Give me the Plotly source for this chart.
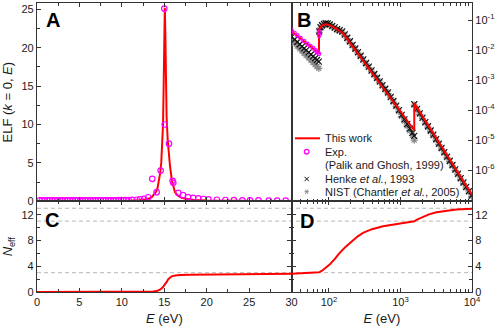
import math
import plotly.graph_objects as go

# ---------------- data ----------------
# Panel A: ELF(k=0,E), linear energy axis
model_E_A = [0, 2, 4, 6, 8, 10, 11, 12, 12.5, 13, 13.5, 14.0, 14.2, 14.37, 14.5, 14.64, 14.76, 14.85,
             14.93, 15.0, 15.06, 15.12, 15.18, 15.27, 15.4, 15.51, 15.67, 15.9, 16.26, 16.6, 17.0, 17.5,
             18.5, 20, 22.5, 25, 30]
model_ELF_A = [0.0, 0.0, 0.01, 0.02, 0.03, 0.05, 0.07, 0.13, 0.18, 0.28, 0.5, 1.19, 1.7, 2.67, 3.6, 5.0,
               7.5, 10.0, 15.5, 22.0, 25.2, 22.0, 15.5, 11.0, 8.0, 6.5, 4.6, 2.67, 1.19, 0.75, 0.48, 0.32,
               0.17, 0.09, 0.05, 0.03, 0.015]
exp_E_A = [0.3, 0.6, 0.9, 1.2, 1.5, 1.8, 2.1, 2.4, 2.7, 3.0, 3.3, 3.6, 3.9, 4.2, 4.5, 4.8, 5.1, 5.4, 5.7,
           6.0, 6.3, 6.6, 6.9, 7.2, 7.5, 7.8, 8.1, 8.4, 8.7, 9.0, 9.3, 9.6, 9.9, 10.2, 10.5, 10.8, 11.2,
           11.77, 12.13, 12.6, 13.1, 13.58, 14.1, 14.57, 15.0, 15.05, 15.55, 15.98, 16.06, 16.65, 17.2,
           17.8, 18.4, 19.0, 19.6, 20.2, 21.2, 22.2, 23.2, 24.2, 25.1, 26.1, 27.3, 28.3, 29.3]
exp_ELF_A = [0.12, 0.12, 0.12, 0.12, 0.12, 0.12, 0.12, 0.12, 0.12, 0.12, 0.12, 0.12, 0.12, 0.12, 0.12,
             0.12, 0.12, 0.12, 0.12, 0.12, 0.12, 0.12, 0.12, 0.12, 0.12, 0.12, 0.12, 0.13, 0.13, 0.13,
             0.13, 0.14, 0.14, 0.15, 0.16, 0.17, 0.18, 0.2, 0.27, 0.32, 0.53, 2.93, 1.19, 4.0, 25.1, 10.0,
             7.5, 2.67, 2.4, 1.1, 0.8, 0.55, 0.45, 0.37, 0.3, 0.26, 0.2, 0.17, 0.15, 0.13, 0.12, 0.11, 0.1,
             0.1, 0.09]

# Panel B: ELF, log-log
model_E_B = [30, 40, 50, 60, 72.4, 72.6, 79, 92, 113, 132, 157, 300, 1000, 1559, 1561, 10000]
model_ELF_B = [0.042, 0.0242, 0.0158, 0.0112, 0.0078, 0.049, 0.0656, 0.0736, 0.0607, 0.0482, 0.036,
               4.43e-3, 8.95e-5, 2.12e-5, 1.67e-4, 1.48e-7]
exp_E_B = [30, 33, 36, 40, 45, 50, 55, 60, 65, 70, 72.5, 73, 74]
exp_ELF_B = [0.045, 0.037, 0.031, 0.025, 0.020, 0.016, 0.0135, 0.0115, 0.0097, 0.0083, 0.0075, 0.030, 0.040]

henke_E = [30, 33, 36, 39, 42, 45, 48, 52, 56, 60, 64, 68, 72,
           73, 76, 80, 85, 90, 96, 103, 111, 120, 130, 141, 153, 166, 180, 196, 214, 233, 254, 277, 302,
           330, 360, 393, 430, 470, 513, 560, 612, 668, 730, 797, 870, 950, 1040, 1135, 1240, 1350, 1470,
           1555,
           1560, 1700, 1860, 2030, 2220, 2420, 2640, 2880, 3150, 3440, 3750, 4100, 4470, 4880, 5330, 5820,
           6360, 6940, 7580, 8280, 9040, 9870]
henke_ELF = [0.0275, 0.0224, 0.0185, 0.0156, 0.0133, 0.0114, 0.0099, 8.34e-3, 7.10e-3, 6.11e-3, 5.32e-3,
             4.67e-3, 4.12e-3,
             0.042, 0.058, 0.067, 0.074, 0.078, 0.077, 0.072, 0.064, 0.057, 0.050, 0.046, 0.042, 0.0333,
             0.0257, 0.0196, 0.01479, 0.01127, 8.55e-3, 6.47e-3, 4.91e-3, 3.70e-3, 2.80e-3, 2.11e-3,
             1.585e-3, 1.19e-3, 9.02e-4, 6.81e-4, 5.12e-4, 3.87e-4, 2.75e-4, 2.0e-4, 1.41e-4, 1.0e-4,
             6.92e-5, 4.90e-5, 3.39e-5, 2.40e-5, 1.74e-5, 1.38e-5,
             1.58e-4, 1.10e-4, 7.76e-5, 5.62e-5, 3.98e-5, 2.88e-5, 2.09e-5, 1.51e-5, 1.07e-5, 7.59e-6,
             5.50e-6, 3.98e-6, 2.82e-6, 2.04e-6, 1.48e-6, 1.05e-6, 7.59e-7, 5.37e-7, 3.89e-7, 2.75e-7,
             2.00e-7, 1.41e-7]
nist_E = henke_E
nist_ELF = [0.0214, 0.0169, 0.0136, 0.0112, 9.31e-3, 7.85e-3, 6.70e-3, 5.50e-3, 4.57e-3, 3.85e-3,
            3.29e-3, 2.83e-3, 2.46e-3,
            0.039, 0.054, 0.062, 0.069, 0.073, 0.072, 0.067, 0.060, 0.053, 0.0465, 0.0425, 0.039, 0.031,
            0.0239, 0.0182, 0.01375, 0.01048, 7.95e-3, 6.02e-3, 4.57e-3, 3.44e-3, 2.60e-3, 1.96e-3,
            1.47e-3, 1.11e-3, 8.39e-4, 6.33e-4, 4.76e-4, 3.60e-4, 2.6e-4, 1.85e-4, 1.3e-4, 9.0e-5,
            6.2e-5, 4.3e-5, 2.95e-5, 2.05e-5, 1.45e-5, 1.0e-5,
            1.47e-4, 1.02e-4, 7.22e-5, 5.23e-5, 3.70e-5, 2.68e-5, 1.94e-5, 1.40e-5, 9.95e-6, 7.06e-6,
            5.12e-6, 3.70e-6, 2.62e-6, 1.90e-6, 1.38e-6, 9.77e-7, 7.06e-7, 4.99e-7, 3.62e-7, 2.56e-7,
            1.86e-7, 1.31e-7]

# Panel C: N_eff, linear energy axis
neff_E_C = [0, 5, 10, 12, 13, 13.7, 14.2, 14.49, 14.8, 15.08, 15.3, 15.47, 15.7, 15.87, 16.3, 16.85, 18,
            20, 25, 30]
neff_C = [0, 0, 0.01, 0.02, 0.04, 0.08, 0.2, 0.36, 0.7, 1.13, 1.6, 2.0, 2.3, 2.43, 2.56, 2.64, 2.68,
          2.72, 2.78, 2.82]
# Panel D: N_eff, log energy axis
neff_E_D = [30, 50, 72.9, 80, 90, 102, 120, 141, 170, 206, 250, 299, 400, 569, 800, 975, 1300, 1560,
            1700, 2066, 2500, 3180, 4500, 6030, 10000]
neff_D = [2.82, 2.92, 3.05, 3.3, 3.75, 4.25, 5.1, 6.07, 7.0, 7.87, 8.6, 9.17, 9.75, 10.2, 10.45, 10.6,
          10.8, 10.98, 11.25, 11.66, 12.05, 12.38, 12.65, 12.8, 12.92]
neff_levels = [3, 11, 13]

# tick labels
x_ticks_lin = [0, 5, 10, 15, 20, 25, 30]
y_ticks_A = [0, 5, 10, 15, 20, 25]
y_ticks_B = [1e-6, 1e-5, 1e-4, 1e-3, 1e-2, 1e-1]
y_ticks_B_text = ["10<sup>-6</sup>", "10<sup>-5</sup>", "10<sup>-4</sup>", "10<sup>-3</sup>",
                  "10<sup>-2</sup>", "10<sup>-1</sup>"]
y_ticks_N = [0, 4, 8, 12]
x_ticks_log = [100, 1000, 10000]
x_ticks_log_text = ["10<sup>2</sup>", "10<sup>3</sup>", "10<sup>4</sup>"]

# ---------------- layout geometry ----------------
W, H = 498, 335
ML, MR, MT, MB = 37, 26, 3, 43
PW, PH = W - ML - MR, H - MT - MB
XS = (291.6 - ML) / PW          # split between left and right panels
YS = (H - MB - 201.3) / PH      # split between top and bottom panels


def px(x):
    return (x - ML) / PW


def py(y):
    return (H - MB - y) / PH


RED = "#FF0000"
MAG = "#FF00FF"
AX = "#333333"
TXT = "#1a1a1a"
FONT = "Liberation Sans, Arial, sans-serif"

fig = go.Figure()

# Panel A
fig.add_trace(go.Scatter(x=model_E_A, y=model_ELF_A, mode="lines", line=dict(color=RED, width=2),
                         xaxis="x", yaxis="y", showlegend=False))
fig.add_trace(go.Scatter(x=exp_E_A, y=exp_ELF_A, mode="markers",
                         marker=dict(symbol="circle-open", size=5.5, color=MAG, line=dict(width=1.2, color=MAG)),
                         xaxis="x", yaxis="y", showlegend=False))
# Panel B
fig.add_trace(go.Scatter(x=nist_E, y=nist_ELF, mode="markers",
                         marker=dict(symbol="asterisk-open", size=6, color="#8a8a8a",
                                     line=dict(width=1.2, color="#8a8a8a")),
                         xaxis="x2", yaxis="y2", showlegend=False))
fig.add_trace(go.Scatter(x=henke_E, y=henke_ELF, mode="markers",
                         marker=dict(symbol="x-thin-open", size=6, color="#111111",
                                     line=dict(width=1.2, color="#111111")),
                         xaxis="x2", yaxis="y2", showlegend=False))
fig.add_trace(go.Scatter(x=model_E_B, y=model_ELF_B, mode="lines", line=dict(color=RED, width=2),
                         xaxis="x2", yaxis="y2", showlegend=False))
fig.add_trace(go.Scatter(x=exp_E_B, y=exp_ELF_B, mode="markers",
                         marker=dict(symbol="circle-open", size=3.5, color=MAG, line=dict(width=1.2, color=MAG)),
                         xaxis="x2", yaxis="y2", showlegend=False))
# Panel C and D
fig.add_trace(go.Scatter(x=neff_E_C, y=neff_C, mode="lines", line=dict(color=RED, width=2),
                         xaxis="x3", yaxis="y3", showlegend=False))
fig.add_trace(go.Scatter(x=neff_E_D, y=neff_D, mode="lines", line=dict(color=RED, width=2),
                         xaxis="x4", yaxis="y4", showlegend=False))

base = dict(showline=True, linecolor=AX, linewidth=1.3, ticks="inside", tickcolor=AX, ticklen=4,
            tickwidth=1, showgrid=False, zeroline=False, automargin=False,
            tickfont=dict(size=11, color=TXT, family=FONT))
minor_lin = lambda d: dict(ticks="inside", ticklen=2.5, tickcolor=AX, dtick=d, showgrid=False)
log_minor = [v * 10 ** k for k in (1, 2, 3) for v in range(2, 10) if 30 < v * 10 ** k < 10000]
minor_log_x = dict(ticks="inside", ticklen=2.5, tickcolor=AX, tickvals=log_minor, showgrid=False)

fig.update_layout(
    width=W, height=H, margin=dict(l=ML, r=MR, t=MT, b=MB, autoexpand=False),
    paper_bgcolor="white", plot_bgcolor="white",
    font=dict(family=FONT, color=TXT, size=11),
    showlegend=False,
    xaxis=dict(base, domain=[0, XS], range=[0, 30], anchor="y", tickvals=x_ticks_lin,
               showticklabels=False, mirror="ticks", minor=minor_lin(2.5)),
    yaxis=dict(base, domain=[YS, 1], range=[0, 25.82], anchor="x", tickvals=y_ticks_A,
               mirror=True, minor=minor_lin(2.5),
               title=dict(text="ELF (<i>k</i> = 0, <i>E</i>)", font=dict(size=13), standoff=6)),
    xaxis2=dict(base, domain=[XS, 1], type="log", range=[math.log10(30), 4], anchor="y2",
                tickvals=x_ticks_log, showticklabels=False, mirror="ticks", minor=minor_log_x),
    yaxis2=dict(base, domain=[YS, 1], type="log", range=[-7.04, -0.433], anchor="x2", side="right",
                tickvals=y_ticks_B, ticktext=y_ticks_B_text, mirror=True),
    xaxis3=dict(base, domain=[0, XS], range=[0, 30], anchor="y3", tickvals=x_ticks_lin,
                mirror="ticks", minor=minor_lin(2.5),
                title=dict(text="<i>E</i> (eV)", font=dict(size=13), standoff=6)),
    yaxis3=dict(base, domain=[0, YS], range=[0, 14.08], anchor="x3", tickvals=y_ticks_N,
                mirror="ticks", minor=minor_lin(2),
                title=dict(text="<i>N</i><sub>eff</sub>", font=dict(size=13), standoff=6)),
    xaxis4=dict(base, domain=[XS, 1], type="log", range=[math.log10(30), 4], anchor="y4",
                tickvals=x_ticks_log, ticktext=x_ticks_log_text, mirror="ticks", minor=minor_log_x,
                title=dict(text="<i>E</i> (eV)", font=dict(size=13), standoff=6)),
    yaxis4=dict(base, domain=[0, YS], range=[0, 14.08], anchor="x4", side="right", tickvals=y_ticks_N,
                mirror="ticks", minor=minor_lin(2)),
)

shapes = []
for lv in neff_levels:
    shapes.append(dict(type="line", xref="paper", x0=0, x1=1, yref="y3", y0=lv, y1=lv, layer="below",
                       line=dict(color="#b8b8b8", width=1, dash="4px,3px")))

# manual legend (layout symbols in pixel positions)
lx = 306.7
shapes.append(dict(type="line", xref="paper", yref="paper", x0=px(295), x1=px(320), y0=py(138.3),
                   y1=py(138.3), line=dict(color=RED, width=2)))
shapes.append(dict(type="circle", xref="paper", yref="paper", x0=px(lx - 2.3), x1=px(lx + 2.3),
                   y0=py(151.7 + 2.3), y1=py(151.7 - 2.3), line=dict(color=MAG, width=1.3)))
r = 2.2
yc = 179
shapes.append(dict(type="path", xref="paper", yref="paper",
                   path=f"M {px(lx-r)},{py(yc-r)} L {px(lx+r)},{py(yc+r)} M {px(lx-r)},{py(yc+r)} L {px(lx+r)},{py(yc-r)}",
                   line=dict(color="#111111", width=1)))
yc = 191.7
shapes.append(dict(type="path", xref="paper", yref="paper",
                   path=(f"M {px(lx-r)},{py(yc)} L {px(lx+r)},{py(yc)} "
                         f"M {px(lx-r*0.6)},{py(yc-r)} L {px(lx+r*0.6)},{py(yc+r)} "
                         f"M {px(lx-r*0.6)},{py(yc+r)} L {px(lx+r*0.6)},{py(yc-r)}"),
                   line=dict(color="#8a8a8a", width=1)))

legend_texts = [("This work", 138.3), ("Exp.", 151.7), ("(Palik and Ghosh, 1999)", 165.0),
                ("Henke <i>et al.</i>, 1993", 179.0), ("NIST (Chantler <i>et al.</i>, 2005)", 191.7)]
annotations = []
for t, yy in legend_texts:
    annotations.append(dict(text=t, xref="paper", yref="paper", x=px(322.7), y=py(yy), xanchor="left",
                            yanchor="middle", showarrow=False, font=dict(size=11, color=TXT, family=FONT)))
for lab, xx, yy in [("A", 52.5, 20.3), ("B", 303.8, 20.3), ("C", 52.2, 220), ("D", 307, 220.7)]:
    annotations.append(dict(text=f"<b>{lab}</b>", xref="paper", yref="paper", x=px(xx), y=py(yy),
                            xanchor="center", yanchor="middle", showarrow=False,
                            font=dict(size=20, color="#000000", family=FONT)))

fig.update_layout(shapes=shapes, annotations=annotations)
fig.write_html("out.html", config={"displayModeBar": False},
               post_script="document.body.style.margin='0px';document.body.style.padding='0px';")
